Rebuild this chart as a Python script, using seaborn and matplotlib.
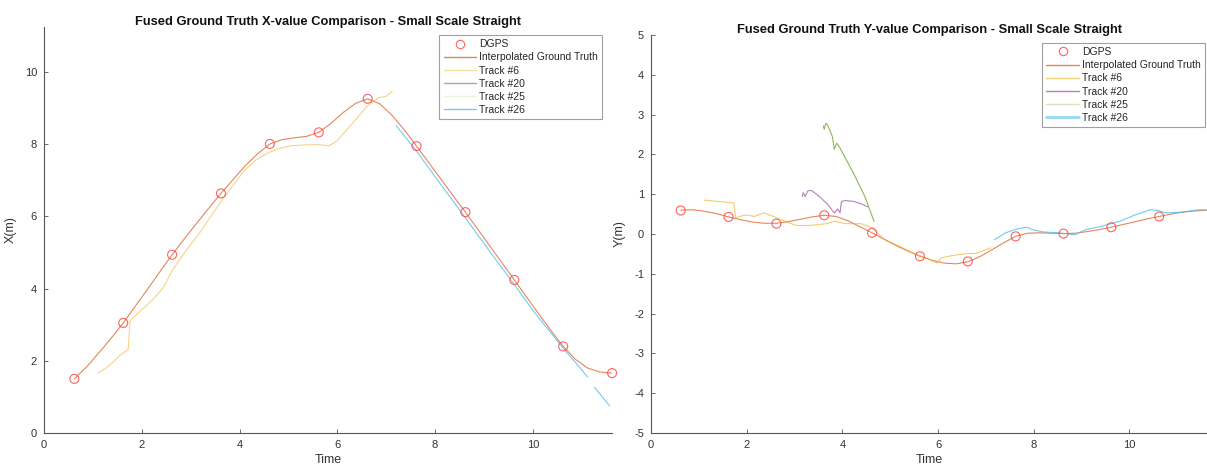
import matplotlib
matplotlib.use("Agg")
import matplotlib.pyplot as plt
from matplotlib.lines import Line2D
import seaborn as sns
import pandas as pd
import numpy as np

# ---------------- data ----------------
dgps_t = [0.62, 1.62, 2.62, 3.62, 4.62, 5.62, 6.62, 7.62, 8.62, 9.62, 10.62, 11.62]
dgps_x = [1.50, 3.05, 4.94, 6.64, 8.01, 8.33, 9.26, 7.95, 6.12, 4.24, 2.40, 1.66]
dgps_y = [0.59, 0.43, 0.26, 0.47, 0.03, -0.56, -0.69, -0.06, 0.01, 0.17, 0.44, 0.60]

gt_t = [0.62, 0.87, 1.12, 1.37, 1.62, 1.87, 2.12, 2.37, 2.62, 2.87, 3.12, 3.37, 3.62,
        3.87, 4.12, 4.37, 4.62, 4.87, 5.12, 5.37, 5.62, 5.87, 6.12, 6.37, 6.62, 6.87,
        7.12, 7.37, 7.62, 7.87, 8.12, 8.37, 8.62, 8.87, 9.12, 9.37, 9.62, 9.87, 10.12,
        10.37, 10.62, 10.87, 11.12, 11.37, 11.62]
gt_x = [1.50, 1.83, 2.22, 2.62, 3.05, 3.52, 3.99, 4.47, 4.94, 5.38, 5.81, 6.23, 6.64,
        7.03, 7.41, 7.74, 8.01, 8.13, 8.18, 8.22, 8.33, 8.58, 8.88, 9.13, 9.26, 9.12,
        8.80, 8.40, 7.95, 7.49, 7.03, 6.57, 6.12, 5.65, 5.18, 4.71, 4.24, 3.77, 3.30,
        2.84, 2.40, 2.04, 1.80, 1.69, 1.66]
gt_y = [0.60, 0.61, 0.57, 0.51, 0.43, 0.36, 0.30, 0.27, 0.27, 0.31, 0.37, 0.43, 0.47,
        0.44, 0.33, 0.18, 0.03, -0.13, -0.29, -0.43, -0.56, -0.66, -0.73, -0.75, -0.70,
        -0.57, -0.40, -0.22, -0.06, 0.02, 0.03, 0.02, 0.01, 0.02, 0.06, 0.11, 0.17, 0.24,
        0.31, 0.38, 0.44, 0.50, 0.55, 0.58, 0.60]

# Track #6
t6_xt = [1.10, 1.25, 1.40, 1.55, 1.72, 1.76, 1.80, 1.90, 2.00, 2.23, 2.45, 2.62, 2.90,
         3.17, 3.40, 3.64, 3.90, 4.10, 4.35, 4.58, 4.80, 5.05, 5.30, 5.60, 5.83, 5.99,
         6.14, 6.38, 6.61, 6.85, 7.00, 7.12]
t6_x = [1.66, 1.78, 1.95, 2.15, 2.31, 3.10, 3.16, 3.30, 3.42, 3.70, 4.05, 4.50, 5.05,
        5.52, 5.98, 6.45, 6.92, 7.28, 7.58, 7.76, 7.88, 7.96, 7.98, 7.99, 7.96, 8.09,
        8.32, 8.69, 9.06, 9.29, 9.33, 9.47]
t6_yt = [1.11, 1.73, 1.77, 1.85, 2.00, 2.16, 2.36, 2.56, 2.80, 3.04, 3.36, 3.67, 3.83,
         4.07, 4.39, 4.63, 4.87, 5.19, 5.50, 5.82, 5.98, 6.06, 6.30, 6.62, 6.78, 7.10]
t6_y = [0.85, 0.78, 0.40, 0.44, 0.48, 0.44, 0.53, 0.44, 0.32, 0.21, 0.22, 0.26, 0.32,
        0.26, 0.26, 0.15, -0.13, -0.31, -0.49, -0.64, -0.73, -0.60, -0.54, -0.49, -0.49, -0.35]

# Track #20
t20_yt = [3.16, 3.18, 3.22, 3.28, 3.36, 3.52, 3.68, 3.83, 3.90, 3.95, 3.98, 4.07, 4.23, 4.39, 4.53]
t20_y = [0.94, 1.04, 0.94, 1.09, 1.09, 0.94, 0.76, 0.53, 0.63, 0.53, 0.82, 0.84, 0.82, 0.76, 0.68]

# Track #25
t25_yt = [3.60, 3.62, 3.65, 3.69, 3.79, 3.83, 3.88, 3.95, 4.23, 4.47, 4.66]
t25_y = [2.72, 2.63, 2.78, 2.74, 2.45, 2.13, 2.28, 2.16, 1.53, 0.94, 0.32]

# Track #26 (segment ids mark a gap in the track)
t26_xt = [7.20, 7.60, 8.00, 8.60, 9.00, 9.60, 10.00, 10.60, 11.00, 11.12, 11.26, 11.57]
t26_x = [8.52, 7.85, 7.10, 6.00, 5.25, 4.15, 3.40, 2.38, 1.75, 1.55, 1.27, 0.75]
t26_xseg = [0, 0, 0, 0, 0, 0, 0, 0, 0, 0, 1, 1]
t26_yt = [7.18, 7.41, 7.65, 7.85, 7.97, 8.21, 8.53, 8.85, 9.09, 9.40, 9.80, 10.12,
          10.44, 10.60, 10.76, 11.08, 11.46, 11.62]
t26_y = [-0.14, 0.03, 0.13, 0.17, 0.11, 0.05, 0.03, -0.02, 0.11, 0.19, 0.32, 0.48,
         0.61, 0.59, 0.53, 0.55, 0.61, 0.60]

labels = ["DGPS", "Interpolated Ground Truth", "Track #6", "Track #20", "Track #25", "Track #26"]
titles = ["Fused Ground Truth X-value Comparison - Small Scale Straight",
          "Fused Ground Truth Y-value Comparison - Small Scale Straight"]

# ---------------- style ----------------
sns.set_theme(style="white")
plt.rcParams['font.family'] = ['Liberation Sans', 'DejaVu Sans']
plt.rcParams['axes.unicode_minus'] = False

C_DGPS = "#ff3b3b"
C_GT = "#d95319"
C_6 = "#edb120"
C_20 = "#7e2f8e"
C_25 = "#77ac30"
C_26 = "#4dbeee"
AX_C = "#555555"

fig = plt.figure(figsize=(12.07, 4.68), dpi=100)
axL = fig.add_axes([0.0365, 0.0748, 0.4706, 0.8675])
axR = fig.add_axes([0.5394, 0.0748, 0.4606, 0.8504])


def line(ax, t, v, color, alpha=0.75, lw=0.8, seg=None):
    df = pd.DataFrame({"t": t, "v": v, "seg": seg if seg is not None else [0] * len(t)})
    sns.lineplot(data=df, x="t", y="v", units="seg", ax=ax, color=color, lw=lw,
                 alpha=alpha, estimator=None, sort=False, legend=False)


def dgps(ax, t, v):
    df = pd.DataFrame({"t": t, "v": v})
    sns.scatterplot(data=df, x="t", y="v", ax=ax, marker="o", s=42,
                    facecolors="none", edgecolor=C_DGPS, linewidth=0.8,
                    alpha=0.8, legend=False, clip_on=False, zorder=5)


# left
dgps(axL, dgps_t, dgps_x)
line(axL, gt_t, gt_x, C_GT, alpha=0.7)
line(axL, t6_xt, t6_x, C_6, alpha=0.55)
line(axL, t26_xt, t26_x, C_26, alpha=0.8, seg=t26_xseg)

# right
dgps(axR, dgps_t[:-1], dgps_y[:-1])
line(axR, gt_t, gt_y, C_GT, alpha=0.7)
line(axR, t6_yt, t6_y, C_6, alpha=0.65)
line(axR, t20_yt, t20_y, C_20, alpha=0.6)
line(axR, t25_yt, t25_y, C_25, alpha=0.85)
line(axR, t26_yt, t26_y, C_26, alpha=0.8)

legend_colors = [C_GT, C_6, C_20, C_25, C_26]
legend_alpha_L = [0.7, 0.4, 0.5, 0.15, 0.8]
legend_alpha_R = [0.7, 0.6, 0.6, 0.3, 0.6]

for ax, title, ylabel, ylim, yt, la, lw26, anchor in [
        (axL, titles[0], "X(m)", (0, 11.25), [0, 2, 4, 6, 8, 10], legend_alpha_L, 1.0, (0.982, 0.98)),
        (axR, titles[1], "Y(m)", (-5, 5), list(range(-5, 6)), legend_alpha_R, 2.0, (0.996, 0.98))]:
    ax.set_xlim(0, 11.62)
    ax.set_ylim(*ylim)
    ax.set_xticks([0, 2, 4, 6, 8, 10])
    ax.set_yticks(yt)
    ax.set_xlabel("Time", fontsize=9, color="#333333", labelpad=3)
    ax.set_ylabel(ylabel, fontsize=9, color="#333333", labelpad=6)
    ax.set_title(title, fontsize=9.3, fontweight="bold", color="#111111", pad=1.5)
    for s in ["top", "right"]:
        ax.spines[s].set_visible(False)
    for s in ["left", "bottom"]:
        ax.spines[s].set_color(AX_C)
        ax.spines[s].set_linewidth(0.8)
    ax.tick_params(direction="in", length=3, width=0.6, colors=AX_C,
                   labelsize=8, labelcolor="#333333", pad=5,
                   left=True, bottom=True)
    handles = [Line2D([], [], ls="none", marker="o", mfc="none", mec=C_DGPS,
                      ms=6, mew=0.8, alpha=0.8)]
    for i, (c, a) in enumerate(zip(legend_colors, la)):
        handles.append(Line2D([], [], color=c, lw=1.0 if i < 4 else lw26, alpha=a))
    leg = ax.legend(handles, labels, loc="upper right", bbox_to_anchor=anchor,
                    fontsize=7.5, frameon=True, fancybox=False, borderpad=0.4,
                    labelspacing=0.3, handlelength=3.1, handletextpad=0.3,
                    borderaxespad=0.0)
    leg.get_frame().set_edgecolor("#888888")
    leg.get_frame().set_linewidth(0.8)

fig.savefig("out.png", dpi=100)
